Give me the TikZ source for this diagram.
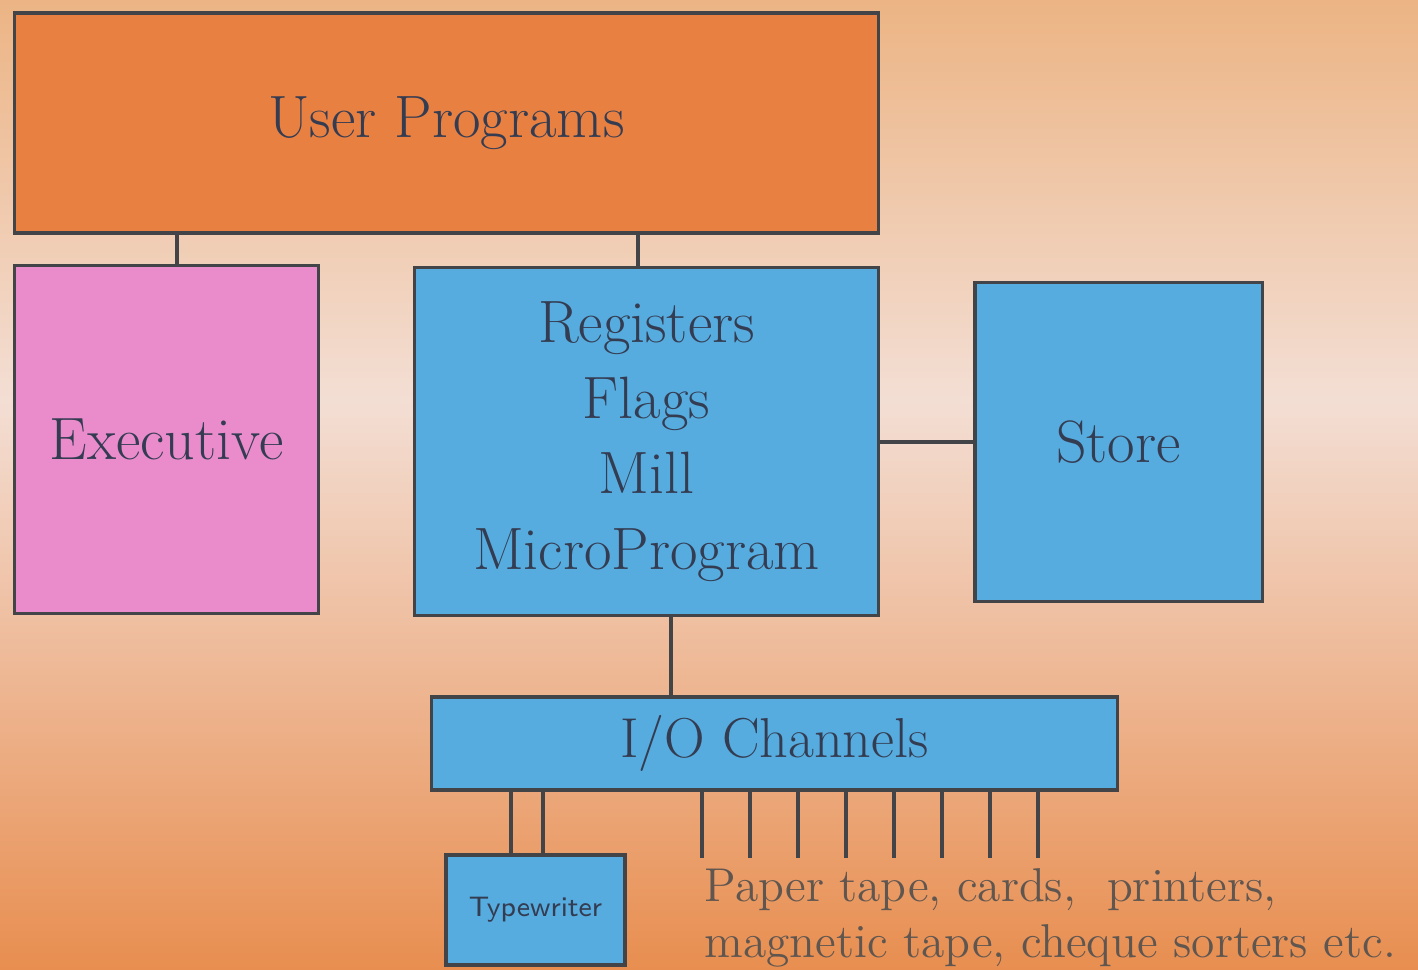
\documentclass[tikz,border=0pt]{standalone}
\usepackage{fontspec}
\definecolor{bgtop}{RGB}{236,180,132}
\definecolor{bgpale}{RGB}{243,222,212}
\definecolor{bgorange}{RGB}{232,142,80}
\definecolor{upfill}{RGB}{232,128,66}
\definecolor{exfill}{RGB}{234,140,204}
\definecolor{blfill}{RGB}{86,172,222}
\definecolor{boxline}{RGB}{66,68,72}
\definecolor{boxtext}{RGB}{52,60,82}
\definecolor{devtext}{RGB}{96,86,80}
\begin{document}
\begin{tikzpicture}[x=0.01cm,y=-0.01cm,
    box/.style={draw=boxline,line width=0.9pt,inner sep=0pt,text=boxtext,align=center,
        font=\fontsize{17}{21.5}\selectfont},
    wire/.style={draw=boxline,line width=1.2pt}]
    \useasboundingbox (0,0) rectangle (1418,970);
    % background
    \shade[top color=bgtop,bottom color=bgpale] (0,0) rectangle (1418,400);
    \shade[top color=bgpale,bottom color=bgorange] (0,400) rectangle (1418,970);
    % boxes
    \node[box,fill=upfill,minimum width=8.63cm,minimum height=2.2cm] (user) at (446.5,123) {User Programs};
    \node[box,fill=exfill,minimum width=3.03cm,minimum height=3.47cm] (exec) at (166.5,439.5) {Executive};
    \node[box,fill=blfill,minimum width=4.63cm,minimum height=3.47cm] (cpu) at (646.5,441.5)
        {Registers\\Flags\\Mill\\MicroProgram};
    \node[box,fill=blfill,minimum width=2.87cm,minimum height=3.18cm] (store) at (1118.5,442) {Store};
    \node[box,fill=blfill,minimum width=6.85cm,minimum height=0.93cm,font=\fontsize{16}{20}\selectfont]
        (io) at (774.5,743.5) {I/O Channels};
    \node[box,fill=blfill,minimum width=1.79cm,minimum height=1.1cm,font=\sffamily\fontsize{8}{10}\selectfont]
        (typ) at (535.5,910) {Typewriter};
    \node[anchor=north west,inner sep=0pt,align=left,text=devtext,font=\fontsize{13.5}{16}\selectfont]
        (dev) at (704,868) {Paper tape, cards,\ \ printers,\\magnetic tape, cheque sorters etc.};
    % connectors
    \draw[wire] ([xshift=3pt]exec.north) -- ([xshift=3pt]user.south -| exec.north);
    \draw[wire] ([xshift=-2.4pt]cpu.north) -- ([xshift=-2.4pt]user.south -| cpu.north);
    \draw[wire] (store.west) -- (store.west -| cpu.east);
    \draw[wire] ([xshift=0.245cm]cpu.south) -- ([xshift=0.245cm]io.north -| cpu.south);
    \foreach \dx in {-0.245,0.075}
        \draw[wire] ([xshift=\dx cm]typ.north) -- ([xshift=\dx cm]typ.north |- io.south);
    \foreach \x [count=\i] in {702,750,798,846,894,942,990,1038}{%
        \coordinate (d\i) at (\x,858);
        \draw[wire] (d\i) -- (d\i |- io.south);
    }
\end{tikzpicture}
\end{document}
